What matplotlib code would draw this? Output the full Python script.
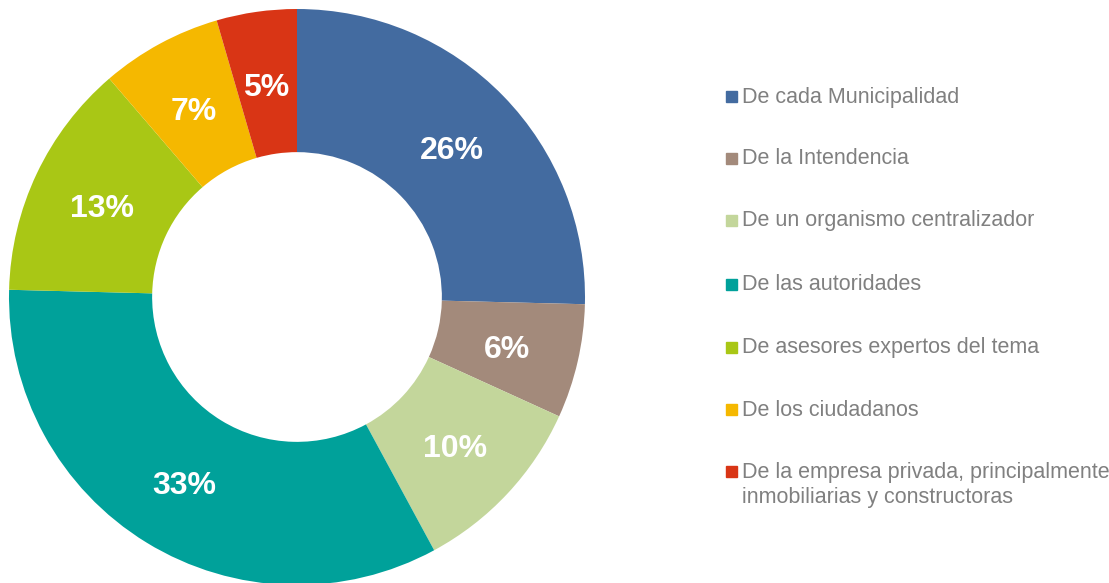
import matplotlib.pyplot as plt
from matplotlib.patches import Rectangle

categories = [
    "De cada Municipalidad",
    "De la Intendencia",
    "De un organismo centralizador",
    "De las autoridades",
    "De asesores expertos del tema",
    "De los ciudadanos",
    "De la empresa privada, principalmente\ninmobiliarias y constructoras",
]
values = [25.4, 6.4, 10.3, 33.3, 13.3, 6.8, 4.5]
pct_labels = ["26%", "6%", "10%", "33%", "13%", "7%", "5%"]
colors = ["#436BA0", "#A38A7B", "#C3D69B", "#00A19A", "#A9C715", "#F5B800", "#D93515"]

plt.rcParams["font.family"] = ["Liberation Sans", "DejaVu Sans"]

W, H = 1109, 583
fig = plt.figure(figsize=(W / 100, H / 100), dpi=100)

# donut axes: centre (297, 297) px from top-left, outer radius 288 px
cx, cy, r = 297, 297, 288
ax = fig.add_axes([(cx - r) / W, (H - cy - r) / H, 2 * r / W, 2 * r / H])
wedges, texts = ax.pie(
    values,
    colors=colors,
    startangle=90,
    counterclock=False,
    radius=1.0,
    wedgeprops=dict(width=0.497, edgecolor="none"),
    labels=pct_labels,
    labeldistance=0.75,
    textprops=dict(color="white", fontsize=23, fontweight="bold", ha="center", va="center"),
)
# nudge labels down a little, like the original
for t in texts:
    x, y = t.get_position()
    t.set_position((x, y - 0.017))
ax.set_xlim(-1, 1)
ax.set_ylim(-1, 1)
ax.set_aspect("equal")

# legend drawn by hand to match spacing
row_y = [97, 159, 221, 285, 348, 410, 472]
for lab, col, y in zip(categories, colors, row_y):
    fig.add_artist(Rectangle((726 / W, (H - y - 5) / H), 11 / W, 11 / H,
                             transform=fig.transFigure, color=col))
    if "\n" in lab:
        fig.text(742 / W, (H - y + 10) / H, lab, color="#808080", fontsize=15.5,
                 ha="left", va="top", linespacing=1.25)
    else:
        fig.text(742 / W, (H - y) / H, lab, color="#808080", fontsize=15.5,
                 ha="left", va="center")

fig.savefig("out.png", dpi=100)
